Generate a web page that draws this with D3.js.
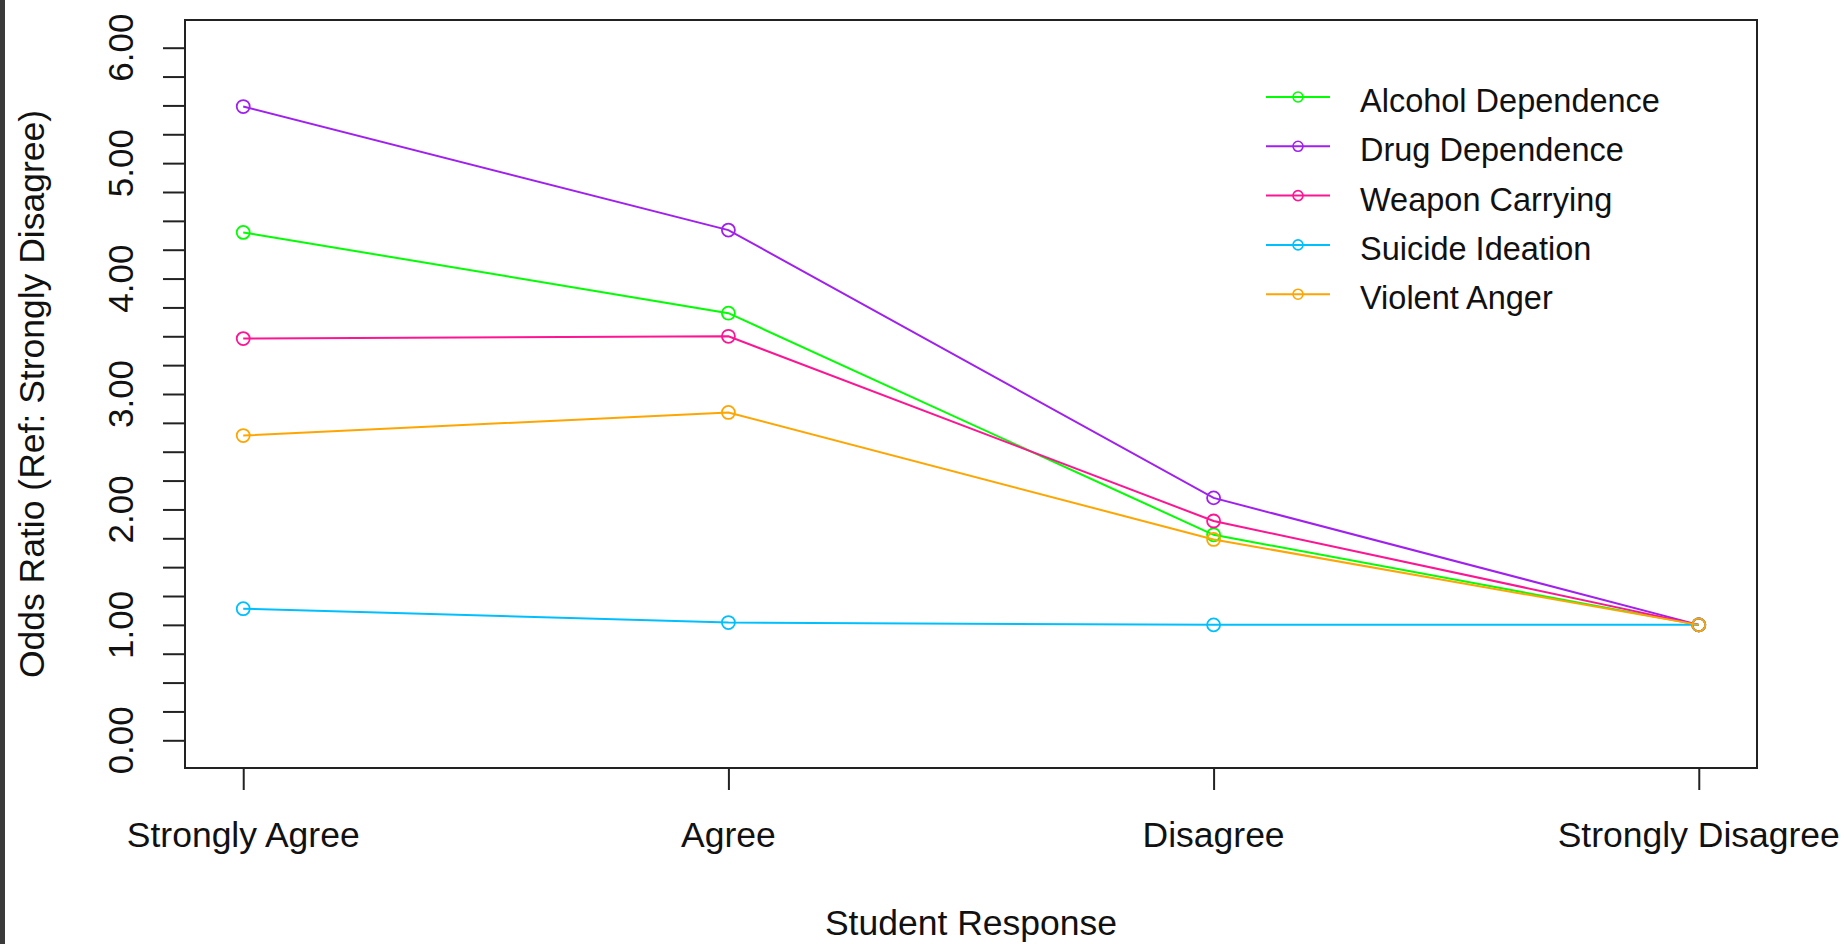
<!DOCTYPE html>
<html>
<head>
<meta charset="utf-8">
<script src="https://cdn.jsdelivr.net/npm/d3@7"></script>
<style>
  html, body { margin: 0; padding: 0; background: #fff; }
  svg { display: block; }
  text { font-family: "Liberation Sans", Arial, sans-serif; fill: #111; }
</style>
</head>
<body>
<svg id="canvas" width="1846" height="944"></svg>
<script>
// chart data
const categories = ["Strongly Agree", "Agree", "Disagree", "Strongly Disagree"];
const seriesNames = ["Alcohol Dependence", "Drug Dependence", "Weapon Carrying", "Suicide Ideation", "Violent Anger"];
const seriesColors = ["#00ff00", "#a020f0", "#ff1493", "#00bfff", "#ffa500"];
const alcohol = [4.40, 3.70, 1.78, 1.00];
const drug = [5.49, 4.42, 2.10, 1.00];
const weapon = [3.48, 3.50, 1.90, 1.00];
const suicide = [1.14, 1.02, 1.00, 1.00];
const anger = [2.64, 2.84, 1.74, 1.00];
const yTicks = d3.range(0, 6.001, 0.25);
const yLabels = [0, 1, 2, 3, 4, 5, 6];

const seriesValues = [alcohol, drug, weapon, suicide, anger];

const svg = d3.select("#canvas");

// plot box
const box = { left: 185, right: 1757, top: 20, bottom: 768 };

// R-style 4% padding of the data ranges
const x = d3.scaleLinear().domain([0.88, 4.12]).range([box.left, box.right]);
const y = d3.scaleLinear().domain([-0.24, 6.24]).range([box.bottom, box.top]);

// dark strip at the left edge of the screenshot
svg.append("rect").attr("x", 0).attr("y", 0).attr("width", 5).attr("height", 944).attr("fill", "#3a3a3a");

// y axis ticks
const yAxis = d3.axisLeft(y).tickValues(yTicks).tickSize(22).tickFormat("");
const gy = svg.append("g").attr("transform", `translate(${box.left},0)`).call(yAxis);
gy.select(".domain").remove();
gy.selectAll("line").attr("stroke", "#222").attr("stroke-width", 2);

// rotated y labels
svg.append("g").selectAll("text")
  .data(yLabels)
  .join("text")
  .attr("transform", d => `translate(133,${y(d)}) rotate(-90)`)
  .attr("text-anchor", "middle")
  .style("font-size", "35px")
  .text(d => d.toFixed(2));

// x axis ticks
const xAxis = d3.axisBottom(x).tickValues([1, 2, 3, 4]).tickSize(22).tickFormat("");
const gx = svg.append("g").attr("transform", `translate(0,${box.bottom})`).call(xAxis);
gx.select(".domain").remove();
gx.selectAll("line").attr("stroke", "#222").attr("stroke-width", 2);

svg.append("g").selectAll("text")
  .data(categories)
  .join("text")
  .attr("x", (d, i) => x(i + 1))
  .attr("y", 847)
  .attr("text-anchor", "middle")
  .style("font-size", "35.5px")
  .text(d => d);

// axis titles
svg.append("text")
  .attr("x", (box.left + box.right) / 2)
  .attr("y", 935)
  .attr("text-anchor", "middle")
  .style("font-size", "35.5px")
  .text("Student Response");

svg.append("text")
  .attr("transform", `translate(44,${(box.top + box.bottom) / 2}) rotate(-90)`)
  .attr("text-anchor", "middle")
  .style("font-size", "35.5px")
  .text("Odds Ratio (Ref: Strongly Disagree)");

// lines and points
const line = d3.line()
  .x((d, i) => x(i + 1))
  .y(d => y(d));

seriesValues.forEach((vals, s) => {
  const g = svg.append("g");
  g.append("path")
    .datum(vals)
    .attr("d", line)
    .attr("fill", "none")
    .attr("stroke", seriesColors[s])
    .attr("stroke-width", 2);
  g.selectAll("circle")
    .data(vals)
    .join("circle")
    .attr("cx", (d, i) => x(i + 1))
    .attr("cy", d => y(d))
    .attr("r", 6.5)
    .attr("fill", "none")
    .attr("stroke", seriesColors[s])
    .attr("stroke-width", 1.8);
});

// plot frame
svg.append("rect")
  .attr("x", box.left).attr("y", box.top)
  .attr("width", box.right - box.left).attr("height", box.bottom - box.top)
  .attr("fill", "none").attr("stroke", "#222").attr("stroke-width", 2);

// legend
const legend = svg.append("g");
const rowY = i => 97 + i * 49.3;
seriesNames.forEach((name, i) => {
  legend.append("line")
    .attr("x1", 1266).attr("x2", 1330)
    .attr("y1", rowY(i)).attr("y2", rowY(i))
    .attr("stroke", seriesColors[i]).attr("stroke-width", 2);
  legend.append("circle")
    .attr("cx", 1298).attr("cy", rowY(i)).attr("r", 5)
    .attr("fill", "none").attr("stroke", seriesColors[i]).attr("stroke-width", 1.6);
  legend.append("text")
    .attr("x", 1360).attr("y", rowY(i) + 15)
    .style("font-size", "32.5px")
    .text(name);
});
</script>
</body>
</html>
